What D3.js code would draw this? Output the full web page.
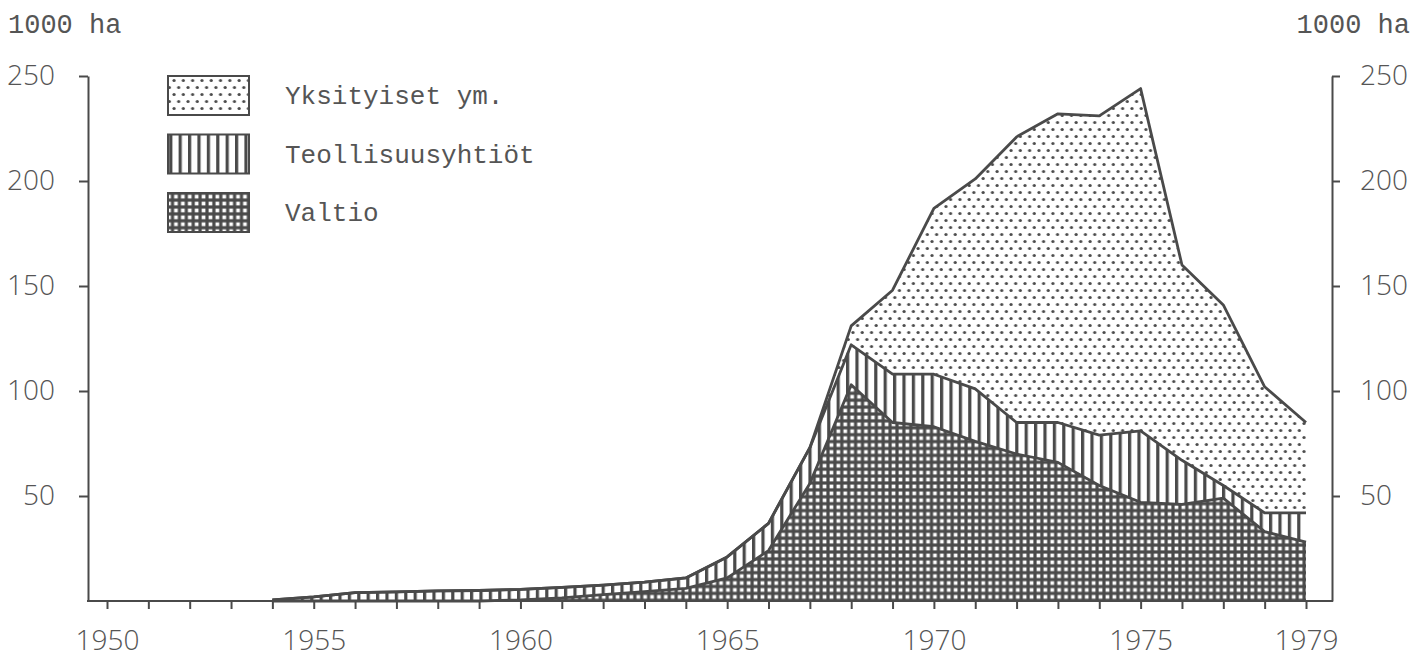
<!DOCTYPE html>
<html>
<head>
<meta charset="utf-8">
<script src="https://cdn.jsdelivr.net/npm/d3@7"></script>
<style>
  html, body { margin: 0; padding: 0; background: #ffffff; }
  svg { display: block; }
  .tick text { font-family: "Open Sans", "Liberation Sans", sans-serif; font-weight: 300; font-size: 28px; fill: #555; }
  .mono { font-family: "Liberation Mono", "Courier New", monospace; fill: #555; }
</style>
</head>
<body>
<script>
// ---- data (1000 ha) ----
const years = [1954,1955,1956,1957,1958,1959,1960,1961,1962,1963,1964,1965,1966,1967,1968,1969,1970,1971,1972,1973,1974,1975,1976,1977,1978,1979];
const valtio = [0,0,0,0,0,0,0.5,1.5,3,4.5,6,11,24,56,103,85,83,76,70,66,55,47,46,49,33,28];
const teollisuusyhtiot = [0.5,2,4,4.3,4.8,5,5,5,4.6,4.5,5,10,13,17,19,23,25,25,15,19,24,34,21,6,9,14];
const yksityiset = [0,0,0,0,0,0,0,0,0,0,0,0,0,0,9,40,79,100,136,147,152,163,93,86,60,43];
const seriesNames = ["Valtio", "Teollisuusyhtiöt", "Yksityiset ym."];
const yTicks = [50,100,150,200,250];
const xLabelYears = [1950,1955,1960,1965,1970,1975,1979];
const unitLabel = "1000 ha";

const W = 1428, H = 657;
const ink = "#4a4a4a";
const svg = d3.select("body").append("svg").attr("width", W).attr("height", H);

const x = d3.scaleLinear().domain([1950, 1979]).range([107, 1306]);
const y = d3.scaleLinear().domain([0, 250]).range([601, 76]);

// ---- patterns ----
const defs = svg.append("defs");
const pDots = defs.append("pattern").attr("id","dots").attr("patternUnits","userSpaceOnUse")
  .attr("width", 9.3).attr("height", 14);
pDots.append("rect").attr("width",9.3).attr("height",14).attr("fill","#fff");
pDots.append("circle").attr("cx",2).attr("cy",3.5).attr("r",1.6).attr("fill",ink);
pDots.append("circle").attr("cx",6.65).attr("cy",10.5).attr("r",1.6).attr("fill",ink);

const pStripes = defs.append("pattern").attr("id","stripes").attr("patternUnits","userSpaceOnUse")
  .attr("width", 9.4).attr("height", 10);
pStripes.append("rect").attr("width",9.4).attr("height",10).attr("fill","#fff");
pStripes.append("rect").attr("x",0).attr("width",3.2).attr("height",10).attr("fill",ink);

const pGrid = defs.append("pattern").attr("id","grid").attr("patternUnits","userSpaceOnUse")
  .attr("width", 6.9).attr("height", 6.9);
pGrid.append("rect").attr("width",6.9).attr("height",6.9).attr("fill",ink);
pGrid.append("rect").attr("x",1.6).attr("y",1.6).attr("width",3.7).attr("height",3.7).attr("fill","#fff");

// ---- stacked data ----
const rows = years.map((yr, i) => ({ year: yr, Valtio: valtio[i], "Teollisuusyhtiöt": teollisuusyhtiot[i], "Yksityiset ym.": yksityiset[i] }));
const stack = d3.stack().keys(seriesNames)(rows);
const fills = { "Valtio": "url(#grid)", "Teollisuusyhtiöt": "url(#stripes)", "Yksityiset ym.": "url(#dots)" };

const area = d3.area().x(d => x(d.data.year)).y0(d => y(d[0])).y1(d => y(d[1]));
const topLine = d3.line().x(d => x(d.data.year)).y(d => y(d[1]));

svg.append("g").selectAll("path").data(stack).join("path")
  .attr("d", area).attr("fill", d => fills[d.key]).attr("stroke", "none");

svg.append("g").selectAll("path").data(stack).join("path")
  .attr("d", topLine).attr("fill", "none").attr("stroke", ink)
  .attr("stroke-width", 2.8).attr("stroke-linejoin", "round");

// ---- axes ----
const leftAxis = d3.axisLeft(y).tickValues(yTicks).tickSize(9).tickSizeOuter(0).tickPadding(24);
const gL = svg.append("g").attr("transform", "translate(88,0)").call(leftAxis);
const rightAxis = d3.axisRight(y).tickValues(yTicks).tickSize(8).tickSizeOuter(0).tickPadding(20);
const gR = svg.append("g").attr("transform", "translate(1332,0)").call(rightAxis);
const bottomAxis = d3.axisBottom(x).tickValues(d3.range(1950, 1980)).tickSize(8).tickPadding(21)
  .tickFormat(d => xLabelYears.includes(d) ? String(d) : "");
const gB = svg.append("g").attr("transform", "translate(0,601)").call(bottomAxis);
gB.select(".domain").remove();
svg.append("line").attr("x1", 87).attr("x2", 1333).attr("y1", 601).attr("y2", 601)
  .attr("stroke", ink).attr("stroke-width", 2);

[gL, gR, gB].forEach(g => {
  g.selectAll(".domain").attr("stroke", ink).attr("stroke-width", 2);
  g.selectAll(".tick line").attr("stroke", ink).attr("stroke-width", 2);
  g.attr("font-family", null).attr("font-size", null);
});

// unit labels
svg.append("text").attr("class","mono").attr("x", 8).attr("y", 33).attr("font-size", 27).text(unitLabel);
svg.append("text").attr("class","mono").attr("x", 1410).attr("y", 33).attr("font-size", 27)
  .attr("text-anchor","end").text(unitLabel);

// ---- legend ----
const legendOrder = ["Yksityiset ym.", "Teollisuusyhtiöt", "Valtio"];
const lg = svg.append("g");
legendOrder.forEach((name, i) => {
  const top = 76 + i * 58.5;
  lg.append("rect").attr("x", 168).attr("y", top).attr("width", 81).attr("height", 39)
    .attr("fill", fills[name]).attr("stroke", ink).attr("stroke-width", 2);
  lg.append("text").attr("class","mono").attr("x", 285).attr("y", top + 28)
    .attr("font-size", 26).text(name);
});
</script>
</body>
</html>
